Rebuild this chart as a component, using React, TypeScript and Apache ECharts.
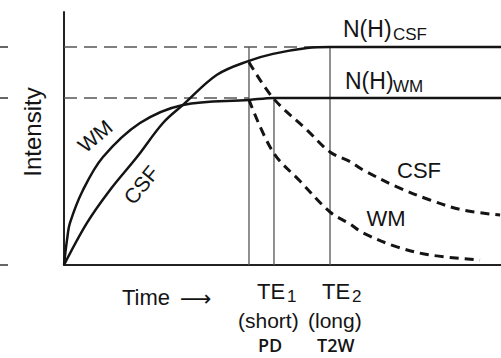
import React, { useEffect, useRef } from "react";
import * as echarts from "echarts";

// Time (arbitrary units, 0-100) and intensity (N(H)CSF = 1)
const wmRecoveryT = [0, 0.69, 1.37, 4.35, 8.92, 17.39, 27.23, 42.33, 48.05, 100];
const wmRecoveryI = [0, 0.115, 0.193, 0.344, 0.495, 0.651, 0.734, 0.757, 0.766, 0.766];

const csfRecoveryT = [0, 5.26, 10.53, 16.7, 22.65, 27.23, 35.01, 42.33, 47.83, 55.61, 60.87, 100];
const csfRecoveryI = [0, 0.193, 0.344, 0.495, 0.651, 0.734, 0.872, 0.936, 0.968, 0.995, 1.0, 1.0];

const csfDecayT = [42.33, 47.83, 55.61, 60.87, 65.45, 68.42, 76.2, 83.75, 91.3, 99.8];
const csfDecayI = [0.93, 0.766, 0.619, 0.518, 0.474, 0.436, 0.358, 0.298, 0.252, 0.229];

const wmDecayT = [42.33, 47.83, 54.0, 60.87, 65.45, 68.42, 76.2, 83.75, 95.2];
const wmDecayI = [0.757, 0.518, 0.385, 0.243, 0.188, 0.147, 0.083, 0.046, 0.023];

const levelCSF = 1.0;
const levelWM = 0.766;
const tStart = 42.33;
const tTE1 = 48.05;
const tTE2 = 60.87;

const zip = (t: number[], v: number[]) => t.map((x, i) => [x, v[i]]);

const FONT = "'Liberation Sans', Arial, Helvetica, sans-serif";
const INK = "#141414";

export default function App() {
  const ref = useRef<HTMLDivElement>(null);
  useEffect(() => {
    if (!ref.current) return;
    const chart = echarts.init(ref.current, null, { renderer: "svg" });
    const txt = (text: string, x: number, y: number, size: number, extra: any = {}) => ({
      type: "text",
      x,
      y,
      rotation: extra.rotation || 0,
      style: {
        text,
        fontSize: size,
        fontFamily: extra.family || FONT,
        fontWeight: extra.weight || "normal",
        fill: INK,
        align: extra.align || "left",
        verticalAlign: "middle",
      },
    });
    const curve = (t: number[], v: number[], dashed: boolean) => ({
      type: "line",
      data: zip(t, v),
      symbol: "none",
      smooth: 0.35,
      lineStyle: dashed
        ? { color: INK, width: 3, type: [9, 6] }
        : { color: INK, width: 2.5 },
    });
    const straight = (pts: number[][], dashed: boolean) => ({
      type: "line",
      data: pts,
      symbol: "none",
      lineStyle: dashed
        ? { color: "#555", width: 1.5, type: [13, 7] }
        : { color: "#555", width: 1.3 },
    });
    chart.setOption({
      animation: false,
      backgroundColor: "#ffffff",
      grid: { left: 64, right: 0, top: 12, bottom: 93, containLabel: false },
      xAxis: {
        type: "value",
        min: 0,
        max: 100,
        axisLine: { show: true, onZero: false, lineStyle: { color: "#222", width: 2 } },
        axisTick: { show: false },
        axisLabel: { show: false },
        splitLine: { show: false },
      },
      yAxis: [
        {
          type: "value",
          min: 0,
          max: 1.16,
          axisLine: { show: true, lineStyle: { color: "#222", width: 2 } },
          axisTick: { show: false },
          axisLabel: { show: false },
          splitLine: { show: false },
        },
        {
          type: "value",
          min: 0,
          max: 1.16,
          position: "left",
          offset: 56,
          axisLine: { show: false },
          axisTick: {
            show: true,
            length: 8,
            customValues: [0, levelWM, levelCSF],
            lineStyle: { color: "#333", width: 1.5 },
          },
          axisLabel: { show: false },
          splitLine: { show: false },
        },
      ],
      series: [
        straight([[0, levelCSF], [tTE2, levelCSF]], true),
        straight([[0, levelWM], [tStart, levelWM]], true),
        straight([[tStart, 0], [tStart, levelCSF]], false),
        straight([[tTE1, 0], [tTE1, levelWM]], false),
        straight([[tTE2, 0], [tTE2, levelCSF]], false),
        curve(wmRecoveryT, wmRecoveryI, false),
        curve(csfRecoveryT, csfRecoveryI, false),
        curve(csfDecayT, csfDecayI, true),
        curve(wmDecayT, wmDecayI, true),
      ],
      graphic: [
        txt("Intensity", 32, 132, 24, { rotation: Math.PI / 2, align: "center" }),
        txt("WM", 95, 136, 21, { rotation: (40 * Math.PI) / 180, align: "center" }),
        txt("CSF", 141, 185, 21, { rotation: (51 * Math.PI) / 180, align: "center" }),
        txt("N(H)", 343, 28.5, 23),
        txt("CSF", 393, 34, 17),
        txt("N(H)", 345, 80.5, 23),
        txt("WM", 393, 86, 17),
        txt("CSF", 419, 170, 22, { align: "center" }),
        txt("WM", 386, 218, 22, { align: "center" }),
        txt("Time", 122, 297, 22),
        txt("\u27F6", 180, 298, 22, { family: "'DejaVu Sans', sans-serif" }),
        txt("TE", 257, 291, 22),
        txt("1", 287, 296, 17),
        txt("TE", 322, 291, 22),
        txt("2", 352, 296, 17),
        txt("(short)", 238, 320, 21),
        txt("(long)", 308, 320, 21),
        txt("PD", 258, 345, 18, { family: "'Open Sans', sans-serif", weight: 600 }),
        txt("T2W", 317, 345, 18, { family: "'Open Sans', sans-serif", weight: 600 }),
      ],
    });
    return () => chart.dispose();
  }, []);
  return <div ref={ref} style={{ width: 501, height: 358, position: "absolute", left: 0, top: 0 }} />;
}
